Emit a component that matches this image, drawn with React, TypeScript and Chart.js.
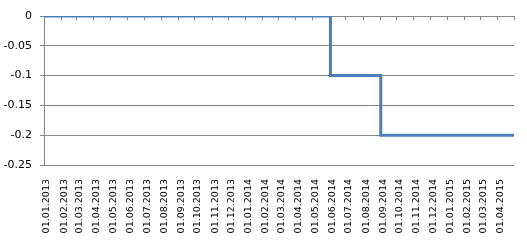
import React, { useEffect, useRef } from "react";
import { Chart, registerables } from "chart.js";

Chart.register(...registerables);

// Monthly tick labels on the time axis
const tickLabels: string[] = [
  "01.01.2013", "01.02.2013", "01.03.2013", "01.04.2013", "01.05.2013", "01.06.2013",
  "01.07.2013", "01.08.2013", "01.09.2013", "01.10.2013", "01.11.2013", "01.12.2013",
  "01.01.2014", "01.02.2014", "01.03.2014", "01.04.2014", "01.05.2014", "01.06.2014",
  "01.07.2014", "01.08.2014", "01.09.2014", "01.10.2014", "01.11.2014", "01.12.2014",
  "01.01.2015", "01.02.2015", "01.03.2015", "01.04.2015",
];
const axisEndDate = "01.05.2015";

// Series (step changes)
const seriesDates: string[] = ["01.01.2013", "03.06.2014", "02.09.2014", "01.05.2015"];
const seriesValues: number[] = [0, -0.1, -0.2, -0.2];

const yMin = -0.25;
const yMax = 0;
const yStep = 0.05;

const baseDate = tickLabels[0];

function dayOf(s: string): number {
  const [d, m, y] = s.split(".").map(Number);
  const [bd, bm, by] = baseDate.split(".").map(Number);
  return Math.round((Date.UTC(y, m - 1, d) - Date.UTC(by, bm - 1, bd)) / 86400000);
}

const GRID = "#868686";
const FONT = "'DejaVu Sans', Verdana, sans-serif";

export default function App() {
  const ref = useRef<HTMLCanvasElement | null>(null);

  useEffect(() => {
    if (!ref.current) return;
    const tickValues = [...tickLabels.map(dayOf), dayOf(axisEndDate)];
    const setTicks = (scale: any) => {
      scale.ticks = tickValues.map((v) => ({ value: v }));
    };
    const chart = new Chart(ref.current, {
      type: "line",
      data: {
        datasets: [
          {
            data: seriesDates.map((d, i) => ({ x: dayOf(d), y: seriesValues[i] })),
            borderColor: "#4a7ebb",
            borderWidth: 3,
            pointRadius: 0,
            stepped: true,
            fill: false,
          },
        ],
      },
      options: {
        responsive: false,
        animation: false,
        devicePixelRatio: 1,
        layout: { padding: { top: 0, right: 13, left: 0, bottom: 0 } },
        plugins: { legend: { display: false }, tooltip: { enabled: false } },
        scales: {
          x: {
            type: "linear",
            position: "bottom",
            min: 0,
            max: dayOf(axisEndDate),
            afterBuildTicks: setTicks,
            afterFit: (s: any) => {
              s.height = 75;
              s.paddingLeft = 0;
              s.paddingRight = 0;
            },
            grid: { display: false },
            border: { display: false },
            ticks: {
              autoSkip: false,
              maxRotation: 90,
              minRotation: 90,
              padding: 6,
              labelOffset: 3,
              color: "#000",
              font: { family: FONT, size: 9.5 },
              callback: (_v: any, i: number) => (i < tickLabels.length ? tickLabels[i] : ""),
            },
          },
          x2: {
            type: "linear",
            position: "top",
            min: 0,
            max: dayOf(axisEndDate),
            afterBuildTicks: setTicks,
            afterFit: (s: any) => {
              s.height = 16;
              s.paddingLeft = 0;
              s.paddingRight = 0;
            },
            border: { display: false },
            grid: {
              drawOnChartArea: false,
              drawTicks: true,
              tickLength: -4,
              color: GRID,
              lineWidth: 1,
            },
            ticks: { display: false },
          },
          y: {
            type: "linear",
            min: yMin,
            max: yMax,
            afterFit: (s: any) => {
              s.width = 44;
              s.paddingTop = 0;
              s.paddingBottom = 0;
            },
            border: { display: true, color: GRID, width: 1 },
            grid: { color: GRID, lineWidth: 1, tickLength: 4, drawTicks: true },
            ticks: {
              stepSize: yStep,
              padding: 8,
              color: "#000",
              font: { family: FONT, size: 11 },
              callback: (v: any) => String(Math.round(Number(v) * 100) / 100),
            },
          },
        },
      },
    });
    return () => chart.destroy();
  }, []);

  return (
    <div style={{ position: "absolute", left: 0, top: 0, width: 527, height: 240, background: "#fff" }}>
      <canvas ref={ref} width={527} height={240} style={{ display: "block" }} />
    </div>
  );
}
